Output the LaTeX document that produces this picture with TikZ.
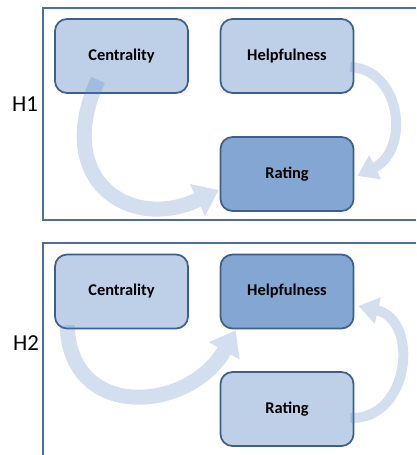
\documentclass[tikz,border=0pt]{standalone}
\usepackage{fontspec}
\setmainfont{Carlito}
\usetikzlibrary{arrows.meta,calc}
\definecolor{boxlight}{HTML}{BDD0E8}
\definecolor{boxdark}{HTML}{84A6D2}
\definecolor{boxline}{HTML}{3D5F8A}
\definecolor{frameline}{HTML}{4F6F9A}
\definecolor{flowblue}{HTML}{4F81BD}
\tikzset{
  varbox/.style={draw=boxline, line width=1.5pt, rounded corners=0.36cm, fill=boxlight,
    minimum width=3.99cm, minimum height=2.22cm, font=\fontsize{14}{16}\selectfont\bfseries},
  depbox/.style={varbox, fill=boxdark},
  hypframe/.style={draw=frameline, line width=1.2pt},
  hyplabel/.style={font=\fontsize{19.5}{22}\selectfont},
  flow/.style={draw=flowblue, line width=12.8pt, -{Triangle[width=29pt,length=20pt]}},
  thinflow/.style={flow, line width=8.5pt, -{Triangle[width=22pt,length=17pt]}}
}
\begin{document}
\begin{tikzpicture}[x=0.03cm, y=0.03cm]
\useasboundingbox (0,0) rectangle (416,-455);

\draw[hypframe] (416,-8) -- (43,-8) -- (43,-220) -- (416,-220);
\draw[hypframe] (43,-455) -- (43,-243) -- (416,-243);
\node[hyplabel] (h1) at (25,-104) {H1};
\node[hyplabel] (h2) at (26,-343) {H2};

% H1
\node[varbox] (cen1) at (121.5,-56) {Centrality};
\node[varbox] (hlp1) at (287,-56) {Helpfulness};
\node[depbox] (rat1) at (287,-174) {Rating};

% H2
\node[varbox] (cen2) at (121.5,-291.5) {Centrality};
\node[depbox] (hlp2) at (287,-291.5) {Helpfulness};
\node[varbox] (rat2) at (287,-409) {Rating};

\begin{scope}[transparency group, opacity=0.25]
\draw[flow] ($(cen1)+(-23.5,-24)$) .. controls (52,-180) and (130,-232) .. ($(rat1.west)+(-1,-16)$);
\draw[thinflow] ($(hlp1.east)+(-4,-11)$) .. controls (402,-70) and (410,-150) .. ($(rat1.east)+(3,-2)$);
\draw[flow] ($(cen2.south west)+(13,4)$) .. controls (70,-422) and (190,-412) .. ($(hlp2.south west)+(16,-1)$);
\draw[thinflow] ($(rat2.east)+(-4,-9)$) .. controls (410,-420) and (420,-320) .. ($(hlp2.east)+(4,-14.5)$);
\end{scope}

\end{tikzpicture}
\end{document}
